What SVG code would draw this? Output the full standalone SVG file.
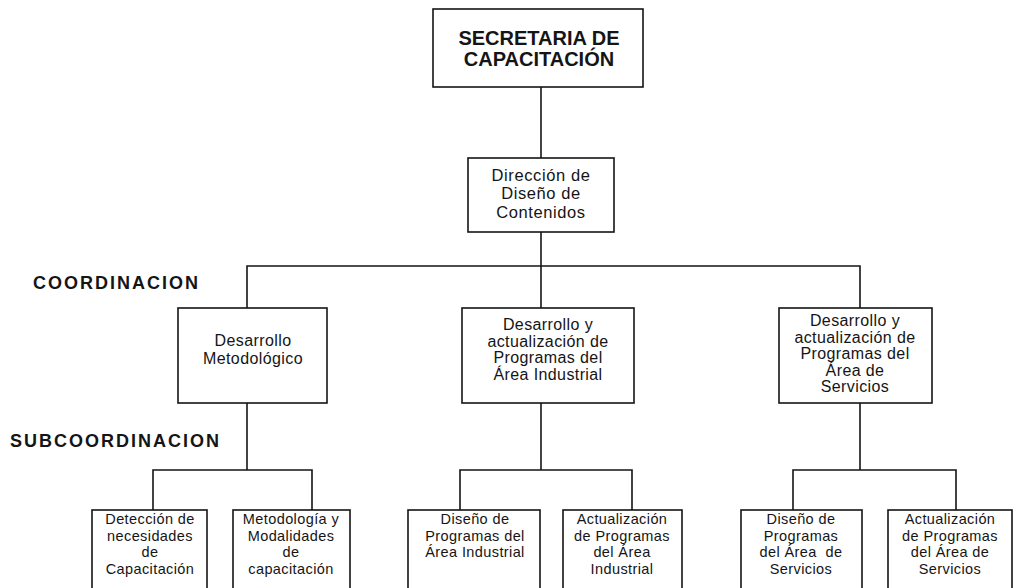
<svg xmlns="http://www.w3.org/2000/svg" width="1017" height="588" viewBox="0 0 1017 588">
  <style>
    .box { fill: #fff; stroke: #151515; stroke-width: 1.6; }
    .ln { fill: none; stroke: #151515; stroke-width: 1.6; }
    .t { font-family: "Liberation Sans", Arial, sans-serif; fill: #151515; text-anchor: middle; }
    .big { font-size: 20px; font-weight: bold; }
    .mid { font-size: 16px; letter-spacing: 0.4px; }
    .dir { font-size: 16.5px; letter-spacing: 0.6px; }
    .sm { font-size: 14.5px; letter-spacing: 0.4px; }
    .lvl { font-family: "Liberation Sans", Arial, sans-serif; fill: #151515; font-size: 18px; font-weight: bold; letter-spacing: 2px; }
  </style>
  <rect width="1017" height="588" fill="#fff"/>

  <!-- level labels -->
  <text class="lvl" x="33" y="289">COORDINACION</text>
  <text class="lvl" x="10" y="447">SUBCOORDINACION</text>

  <!-- connectors -->
  <g id="connectors">
    <path class="ln" d="M541 87 V158"/>
    <path class="ln" d="M541 232 V308"/>
    <path class="ln" d="M247 308 V266 H860 V308"/>
    <path class="ln" d="M247 403 V470"/>
    <path class="ln" d="M153 510 V470 H312 V510"/>
    <path class="ln" d="M541 403 V470"/>
    <path class="ln" d="M460 510 V470 H632 V510"/>
    <path class="ln" d="M860 403 V470"/>
    <path class="ln" d="M793 510 V470 H956 V510"/>
  </g>

  <g id="secretaria">
    <rect class="box" x="433" y="9" width="210" height="78"/>
    <text class="t big" x="539" y="45">SECRETARIA DE</text>
    <text class="t big" x="539" y="66">CAPACITACIÓN</text>
  </g>

  <g id="direccion">
    <rect class="box" x="468" y="158" width="146" height="74"/>
    <text class="t dir" x="541" y="181">Dirección de</text>
    <text class="t dir" x="541" y="199">Diseño de</text>
    <text class="t dir" x="541" y="218">Contenidos</text>
  </g>

  <g id="desarrollo-metodologico">
    <rect class="box" x="178" y="308" width="149" height="95"/>
    <text class="t mid" x="253" y="346">Desarrollo</text>
    <text class="t mid" x="253" y="364">Metodológico</text>
  </g>

  <g id="area-industrial">
    <rect class="box" x="462" y="308" width="172" height="95"/>
    <text class="t mid" x="548" y="330">Desarrollo y</text>
    <text class="t mid" x="548" y="346.5">actualización de</text>
    <text class="t mid" x="548" y="363">Programas del</text>
    <text class="t mid" x="548" y="379.5">Área Industrial</text>
  </g>

  <g id="area-servicios">
    <rect class="box" x="779" y="308" width="153" height="95"/>
    <text class="t mid" x="855" y="326">Desarrollo y</text>
    <text class="t mid" x="855" y="342.5">actualización de</text>
    <text class="t mid" x="855" y="359">Programas del</text>
    <text class="t mid" x="855" y="375.5">Área de</text>
    <text class="t mid" x="855" y="392">Servicios</text>
  </g>

  <g id="deteccion">
    <rect class="box" x="92" y="510" width="115" height="100"/>
    <text class="t sm" x="150" y="524">Detección de</text>
    <text class="t sm" x="150" y="540.5">necesidades</text>
    <text class="t sm" x="150" y="557">de</text>
    <text class="t sm" x="150" y="573.5">Capacitación</text>
  </g>

  <g id="metodologia">
    <rect class="box" x="233" y="510" width="117" height="100"/>
    <text class="t sm" x="291" y="524">Metodología y</text>
    <text class="t sm" x="291" y="540.5">Modalidades</text>
    <text class="t sm" x="291" y="557">de</text>
    <text class="t sm" x="291" y="573.5">capacitación</text>
  </g>

  <g id="diseno-industrial">
    <rect class="box" x="408" y="510" width="132" height="100"/>
    <text class="t sm" x="475" y="524">Diseño de</text>
    <text class="t sm" x="475" y="540.5">Programas del</text>
    <text class="t sm" x="475" y="557">Área Industrial</text>
  </g>

  <g id="actualizacion-industrial">
    <rect class="box" x="563" y="510" width="119" height="100"/>
    <text class="t sm" x="622" y="524">Actualización</text>
    <text class="t sm" x="622" y="540.5">de Programas</text>
    <text class="t sm" x="622" y="557">del Área</text>
    <text class="t sm" x="622" y="573.5">Industrial</text>
  </g>

  <g id="diseno-servicios">
    <rect class="box" x="741" y="510" width="121" height="100"/>
    <text class="t sm" x="801" y="524">Diseño de</text>
    <text class="t sm" x="801" y="540.5">Programas</text>
    <text class="t sm" x="801" y="557" xml:space="preserve">del Área  de</text>
    <text class="t sm" x="801" y="573.5">Servicios</text>
  </g>

  <g id="actualizacion-servicios">
    <rect class="box" x="888" y="510" width="124" height="100"/>
    <text class="t sm" x="950" y="524">Actualización</text>
    <text class="t sm" x="950" y="540.5">de Programas</text>
    <text class="t sm" x="950" y="557">del Área de</text>
    <text class="t sm" x="950" y="573.5">Servicios</text>
  </g>
</svg>
